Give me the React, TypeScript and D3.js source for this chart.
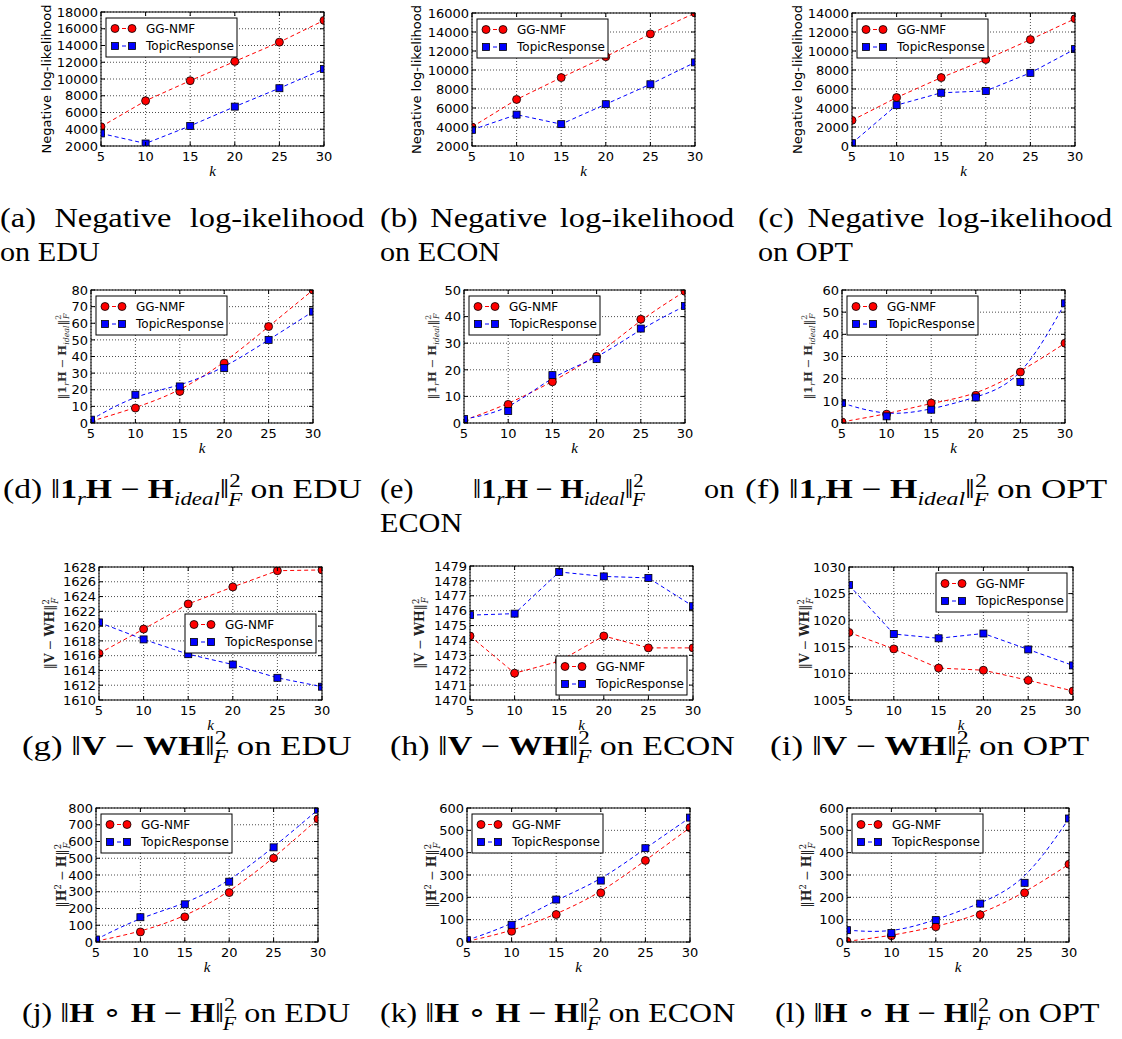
import React, { useLayoutEffect, useRef } from "react";
import * as d3 from "d3";

// ---------- data ----------
const ks = [5, 10, 15, 20, 25, 30];
const kTicks = [5, 10, 15, 20, 25, 30];
const seriesNames = ["GG-NMF", "TopicResponse"];

const nllEduGG = [4300, 7400, 9800, 12100, 14400, 17000];
const nllEduTR = [3500, 2300, 4400, 6700, 8900, 11200];
const nllEconGG = [4000, 6900, 9200, 11400, 13800, 16000];
const nllEconTR = [3700, 5300, 4300, 6400, 8500, 10800];
const nllOptGG = [2700, 5100, 7200, 9100, 11200, 13400];
const nllOptTR = [300, 4300, 5600, 5800, 7700, 10200];

const idealEduGG = [1, 9, 19, 36, 58, 80];
const idealEduTR = [2, 17, 22, 33, 50, 67];
const idealEconGG = [1, 7, 15.5, 25, 39, 49.5];
const idealEconTR = [1.5, 4.5, 18, 24, 35.5, 44];
const idealOptGG = [0.5, 4, 9, 12.5, 23, 36];
const idealOptTR = [9, 3, 6, 11.5, 18.5, 54];

const vwhEduGG = [1616.3, 1619.6, 1623.0, 1625.3, 1627.5, 1627.6];
const vwhEduTR = [1620.5, 1618.2, 1616.2, 1614.8, 1613.0, 1611.8];
const vwhEconGG = [1474.3, 1471.8, 1472.6, 1474.3, 1473.5, 1473.5];
const vwhEconTR = [1475.7, 1475.8, 1478.6, 1478.3, 1478.2, 1476.3];
const vwhOptGG = [1017.7, 1014.6, 1011.0, 1010.6, 1008.7, 1006.7];
const vwhOptTR = [1026.6, 1017.4, 1016.6, 1017.5, 1014.5, 1011.5];

const hhEduGG = [5, 60, 150, 295, 500, 735];
const hhEduTR = [15, 148, 225, 360, 565, 790];
const hhEconGG = [3, 48, 123, 220, 365, 512];
const hhEconTR = [8, 77, 190, 275, 420, 557];
const hhOptGG = [3, 28, 68, 122, 220, 348];
const hhOptTR = [53, 40, 98, 172, 265, 553];

// ---------- layout ----------
type Panel = {
  key: string;
  x0: number; x1: number; y0: number; y1: number;
  domain: [number, number]; step: number;
  gg: number[]; tr: number[];
  smooth: boolean;
  legend: "ul" | "cr" | "lr" | "ur";
  ylabel: "nll" | "ideal" | "vwh" | "hh";
  ylx: number;
};

const panels: Panel[] = [
  { key: "a", x0: 101, x1: 324, y0: 12, y1: 146, domain: [2000, 18000], step: 2000, gg: nllEduGG, tr: nllEduTR, smooth: false, legend: "ul", ylabel: "nll", ylx: 46 },
  { key: "b", x0: 472, x1: 695, y0: 13, y1: 146, domain: [2000, 16000], step: 2000, gg: nllEconGG, tr: nllEconTR, smooth: false, legend: "ul", ylabel: "nll", ylx: 416 },
  { key: "c", x0: 852, x1: 1075, y0: 13, y1: 146, domain: [0, 14000], step: 2000, gg: nllOptGG, tr: nllOptTR, smooth: false, legend: "ul", ylabel: "nll", ylx: 797 },
  { key: "d", x0: 91, x1: 313, y0: 290, y1: 423, domain: [0, 80], step: 10, gg: idealEduGG, tr: idealEduTR, smooth: true, legend: "ul", ylabel: "ideal", ylx: 62 },
  { key: "e", x0: 464, x1: 685, y0: 290, y1: 423, domain: [0, 50], step: 10, gg: idealEconGG, tr: idealEconTR, smooth: true, legend: "ul", ylabel: "ideal", ylx: 432 },
  { key: "f", x0: 842, x1: 1065, y0: 290, y1: 423, domain: [0, 60], step: 10, gg: idealOptGG, tr: idealOptTR, smooth: true, legend: "ul", ylabel: "ideal", ylx: 808 },
  { key: "g", x0: 99, x1: 322, y0: 567, y1: 700, domain: [1610, 1628], step: 2, gg: vwhEduGG, tr: vwhEduTR, smooth: false, legend: "cr", ylabel: "vwh", ylx: 50 },
  { key: "h", x0: 470, x1: 693, y0: 566, y1: 700, domain: [1470, 1479], step: 1, gg: vwhEconGG, tr: vwhEconTR, smooth: false, legend: "lr", ylabel: "vwh", ylx: 420 },
  { key: "i", x0: 849, x1: 1073, y0: 567, y1: 700, domain: [1005, 1030], step: 5, gg: vwhOptGG, tr: vwhOptTR, smooth: false, legend: "ur", ylabel: "vwh", ylx: 805 },
  { key: "j", x0: 96, x1: 318, y0: 808, y1: 942, domain: [0, 800], step: 100, gg: hhEduGG, tr: hhEduTR, smooth: true, legend: "ul", ylabel: "hh", ylx: 62 },
  { key: "k", x0: 467, x1: 690, y0: 808, y1: 942, domain: [0, 600], step: 100, gg: hhEconGG, tr: hhEconTR, smooth: true, legend: "ul", ylabel: "hh", ylx: 432 },
  { key: "l", x0: 847, x1: 1069, y0: 808, y1: 942, domain: [0, 600], step: 100, gg: hhOptGG, tr: hhOptTR, smooth: true, legend: "ul", ylabel: "hh", ylx: 807 },
];

const RED = "#ff0000";
const BLUE = "#0000ff";
const SANS = "'DejaVu Sans', sans-serif";
const SERIF = "'DejaVu Serif', serif";
const CAPSERIF = "'Liberation Serif', serif";
const MATHK = "'Liberation Serif', serif";

function Circle({ x, y, r = 4 }: { x: number; y: number; r?: number }) {
  return <circle cx={x} cy={y} r={r} fill={RED} stroke="#000" strokeWidth={0.8} />;
}
function Square({ x, y, s = 7 }: { x: number; y: number; s?: number }) {
  return <rect x={x - s / 2} y={y - s / 2} width={s} height={s} fill={BLUE} stroke="#000" strokeWidth={0.8} />;
}

function Legend({ x, y }: { x: number; y: number }) {
  const w = 131, h = 39;
  const r1 = y + 10.5, r2 = y + 28;
  return (
    <g>
      <rect x={x} y={y} width={w} height={h} fill="#fff" stroke="#000" strokeWidth={1} />
      <line x1={x + 9} x2={x + 26} y1={r1} y2={r1} stroke={RED} strokeDasharray="4,3" />
      <Circle x={x + 9} y={r1} />
      <Circle x={x + 26} y={r1} />
      <text x={x + 40} y={r1 + 4.3} fontFamily={SANS} fontSize={12}>{seriesNames[0]}</text>
      <line x1={x + 9} x2={x + 26} y1={r2} y2={r2} stroke={BLUE} strokeDasharray="4,3" />
      <Square x={x + 9} y={r2} />
      <Square x={x + 26} y={r2} />
      <text x={x + 40} y={r2 + 4.3} fontFamily={SANS} fontSize={12}>{seriesNames[1]}</text>
    </g>
  );
}

// math helpers ----------------------------------------------------------
function NormSupSub({ fs, after, preDy = 0 }: { fs: number; after?: string; preDy?: number }) {
  const s = fs * 0.68;
  return (
    <>
      <tspan dy={preDy || undefined}>‖</tspan>
      <tspan fontSize={s} dy={-fs * 0.4}>2</tspan>
      <tspan fontSize={s} fontStyle="italic" dx={-s * 0.55} dy={fs * 0.68}>F</tspan>
      {after ? <tspan dy={-fs * 0.28}>{after}</tspan> : null}
    </>
  );
}

function IdealExpr({ fs, after }: { fs: number; after?: string }) {
  const s = fs * 0.68;
  return (
    <>
      <tspan>‖</tspan>
      <tspan fontWeight="bold">1</tspan>
      <tspan fontStyle="italic" fontSize={s} dy={fs * 0.25}>r</tspan>
      <tspan fontWeight="bold" dy={-fs * 0.25}>H</tspan>
      <tspan>{"\u2005−\u2005"}</tspan>
      <tspan fontWeight="bold">H</tspan>
      <tspan fontStyle="italic" fontSize={s} dy={fs * 0.25}>ideal</tspan>
      <NormSupSub fs={fs} after={after} preDy={-fs * 0.25} />
    </>
  );
}

function VWHExpr({ fs, after }: { fs: number; after?: string }) {
  return (
    <>
      <tspan>‖</tspan>
      <tspan fontWeight="bold">V</tspan>
      <tspan>{"\u2005−\u2005"}</tspan>
      <tspan fontWeight="bold">WH</tspan>
      <NormSupSub fs={fs} after={after} />
    </>
  );
}

function HHExpr({ fs, after, circ }: { fs: number; after?: string; circ: boolean }) {
  const s = fs * 0.68;
  return (
    <>
      <tspan>‖</tspan>
      {circ ? (
        <>
          <tspan fontWeight="bold">H</tspan>
          <tspan>{"\u2005∘\u2005"}</tspan>
          <tspan fontWeight="bold">H</tspan>
          <tspan>{"\u2005−\u2005"}</tspan>
        </>
      ) : (
        <>
          <tspan fontWeight="bold">H</tspan>
          <tspan fontSize={s} dy={-fs * 0.4}>2</tspan>
          <tspan dy={fs * 0.4}>{"\u2005−\u2005"}</tspan>
        </>
      )}
      <tspan fontWeight="bold">H</tspan>
      <NormSupSub fs={fs} after={after} />
    </>
  );
}

function YLabel({ p }: { p: Panel }) {
  const cy = (p.y0 + p.y1) / 2;
  const tr = `translate(${p.ylx},${cy}) rotate(-90)`;
  if (p.ylabel === "nll") {
    return (
      <text transform={tr} dy="0.35em" textAnchor="middle" fontFamily={SANS} fontSize={13}>
        Negative log-likelihood
      </text>
    );
  }
  if (p.ylabel === "ideal") {
    return (
      <text transform={tr} dy="0.35em" textAnchor="middle" fontFamily={SERIF} fontSize={11.5} fill="#333">
        <IdealExpr fs={11.5} />
      </text>
    );
  }
  if (p.ylabel === "vwh") {
    return (
      <text transform={tr} dy="0.35em" textAnchor="middle" fontFamily={SERIF} fontSize={12.5} fill="#222">
        <VWHExpr fs={12.5} />
      </text>
    );
  }
  return (
    <text transform={tr} dy="0.35em" textAnchor="middle" fontFamily={SERIF} fontSize={12.5} fill="#222">
      <HHExpr fs={12.5} circ={false} />
    </text>
  );
}

function PanelView({ p }: { p: Panel }) {
  const x = d3.scaleLinear().domain([5, 30]).range([p.x0, p.x1]);
  const y = d3.scaleLinear().domain(p.domain).range([p.y1, p.y0]);
  const yTicks = d3.range(p.domain[0], p.domain[1] + p.step / 2, p.step);
  const line = d3
    .line<number>()
    .x((_, i) => x(ks[i]))
    .y((d) => y(d))
    .curve(p.smooth ? d3.curveBasis : d3.curveLinear);
  const clipId = `clip-${p.key}`;
  const w = 131, h = 39;
  let lx = p.x0 + 5, ly = p.y0 + 6;
  if (p.legend === "cr") { lx = p.x1 - 6 - w; ly = (p.y0 + p.y1) / 2 - h / 2; }
  if (p.legend === "lr") { lx = p.x1 - 6 - w; ly = p.y1 - 5 - h; }
  if (p.legend === "ur") { lx = p.x1 - 6 - w; ly = p.y0 + 6; }
  const tl = 4;
  return (
    <g>
      <defs>
        <clipPath id={clipId}>
          <rect x={p.x0} y={p.y0} width={p.x1 - p.x0} height={p.y1 - p.y0} />
        </clipPath>
      </defs>
      <rect x={p.x0} y={p.y0} width={p.x1 - p.x0} height={p.y1 - p.y0} fill="#fff" />
      {kTicks.map((t) => (
        <line key={`gx${t}`} x1={x(t)} x2={x(t)} y1={p.y0} y2={p.y1} stroke="#000" strokeWidth={0.7} strokeDasharray="1,2" />
      ))}
      {yTicks.map((t) => (
        <line key={`gy${t}`} x1={p.x0} x2={p.x1} y1={y(t)} y2={y(t)} stroke="#000" strokeWidth={0.7} strokeDasharray="1,2" />
      ))}
      <g clipPath={`url(#${clipId})`}>
        <path d={line(p.gg) || ""} fill="none" stroke={RED} strokeWidth={1} strokeDasharray="4,3" />
        <path d={line(p.tr) || ""} fill="none" stroke={BLUE} strokeWidth={1} strokeDasharray="4,3" />
        {p.gg.map((v, i) => <Circle key={`c${i}`} x={x(ks[i])} y={y(v)} />)}
        {p.tr.map((v, i) => <Square key={`s${i}`} x={x(ks[i])} y={y(v)} />)}
      </g>
      {kTicks.map((t) => (
        <g key={`tx${t}`}>
          <line x1={x(t)} x2={x(t)} y1={p.y1} y2={p.y1 - tl} stroke="#000" />
          <line x1={x(t)} x2={x(t)} y1={p.y0} y2={p.y0 + tl} stroke="#000" />
          <text x={x(t)} y={p.y1 + 15} textAnchor="middle" fontFamily={SANS} fontSize={13}>{t}</text>
        </g>
      ))}
      {yTicks.map((t) => (
        <g key={`ty${t}`}>
          <line x1={p.x0} x2={p.x0 + tl} y1={y(t)} y2={y(t)} stroke="#000" />
          <line x1={p.x1} x2={p.x1 - tl} y1={y(t)} y2={y(t)} stroke="#000" />
          <text x={p.x0 - 3} y={y(t) + 4.7} textAnchor="end" fontFamily={SANS} fontSize={13}>{t}</text>
        </g>
      ))}
      <rect x={p.x0} y={p.y0} width={p.x1 - p.x0} height={p.y1 - p.y0} fill="none" stroke="#000" strokeWidth={1} />
      <Legend x={lx} y={ly} />
      <text x={(p.x0 + p.x1) / 2} y={p.y1 + 30} textAnchor="middle" fontFamily={MATHK} fontStyle="italic" fontSize={15}>k</text>
      <YLabel p={p} />
    </g>
  );
}

const CFS = 27;
const SX = 1.12;

export default function App() {
  const ref = useRef<SVGSVGElement>(null);
  useLayoutEffect(() => {
    const svg = ref.current;
    if (!svg) return;
    svg.querySelectorAll<SVGTextElement>("text[data-tx]").forEach((t) => {
      t.removeAttribute("transform");
      t.style.wordSpacing = "0px";
      const tx = +(t.getAttribute("data-tx") || 0);
      const tw = t.hasAttribute("data-tw") ? +(t.getAttribute("data-tw") || 0) : 0;
      const mode = t.getAttribute("data-mode") || "scale";
      let sx = t.hasAttribute("data-sx") ? +(t.getAttribute("data-sx") || SX) : SX;
      let bb = t.getBBox();
      if (mode === "justify" && tw > 0) {
        const n = ((t.textContent || "").match(/ /g) || []).length;
        const ws = n > 0 ? Math.max(0, (tw / sx - bb.width) / n) : 0;
        t.style.wordSpacing = `${ws}px`;
        bb = t.getBBox();
        sx = tw / bb.width;
      } else if (mode === "stretch" && tw > 0) {
        sx = tw / bb.width;
      }
      t.setAttribute("transform", `translate(${tx},0) scale(${sx},1) translate(${-bb.x},0)`);
    });
  }, []);

  return (
    <svg
      ref={ref}
      width={1122}
      height={1039}
      style={{ position: "absolute", left: 0, top: 0, display: "block", background: "#fff" }}
    >
      <rect x={0} y={0} width={1122} height={1039} fill="#fff" />
      {panels.map((p) => <PanelView key={p.key} p={p} />)}

      <g fontFamily={CAPSERIF} fontSize={CFS} fill="#000">
        {/* row 1 */}
        <text x={0} y={227} data-tx={0} data-tw={365} data-sx={1.2} data-mode="justify">(a) Negative log-ikelihood</text>
        <text x={0} y={261} data-tx={0}>on EDU</text>
        <text x={380} y={227} data-tx={380} data-tw={355} data-sx={1.2} data-mode="justify">(b) Negative log-ikelihood</text>
        <text x={380} y={261} data-tx={380}>on ECON</text>
        <text x={758} y={227} data-tx={758} data-tw={355} data-sx={1.2} data-mode="justify">(c) Negative log-ikelihood</text>
        <text x={758} y={261} data-tx={758}>on OPT</text>

        {/* row 2 */}
        <text x={3} y={498} data-tx={3} data-tw={359} data-mode="stretch">
          <tspan>(d) </tspan><IdealExpr fs={CFS} after=" on EDU" />
        </text>
        <text x={380} y={498} data-tx={380} data-tw={355} data-mode="justify">
          <tspan>(e) </tspan><IdealExpr fs={CFS} after=" on" />
        </text>
        <text x={380} y={532} data-tx={380}>ECON</text>
        <text x={745} y={498} data-tx={745} data-tw={363} data-mode="stretch">
          <tspan>(f) </tspan><IdealExpr fs={CFS} after=" on OPT" />
        </text>

        {/* row 3 */}
        <text x={22} y={755} data-tx={22} data-tw={330} data-mode="stretch">
          <tspan>(g) </tspan><VWHExpr fs={CFS} after=" on EDU" />
        </text>
        <text x={390} y={755} data-tx={390} data-tw={345} data-mode="stretch">
          <tspan>(h) </tspan><VWHExpr fs={CFS} after=" on ECON" />
        </text>
        <text x={770} y={755} data-tx={770} data-tw={320} data-mode="stretch">
          <tspan>(i) </tspan><VWHExpr fs={CFS} after=" on OPT" />
        </text>

        {/* row 4 */}
        <text x={22} y={1022} data-tx={22} data-tw={328} data-mode="stretch">
          <tspan>(j) </tspan><HHExpr fs={CFS} circ={true} after=" on EDU" />
        </text>
        <text x={380} y={1022} data-tx={380} data-tw={355} data-mode="stretch">
          <tspan>(k) </tspan><HHExpr fs={CFS} circ={true} after=" on ECON" />
        </text>
        <text x={775} y={1022} data-tx={775} data-tw={325} data-mode="stretch">
          <tspan>(l) </tspan><HHExpr fs={CFS} circ={true} after=" on OPT" />
        </text>
      </g>
    </svg>
  );
}
